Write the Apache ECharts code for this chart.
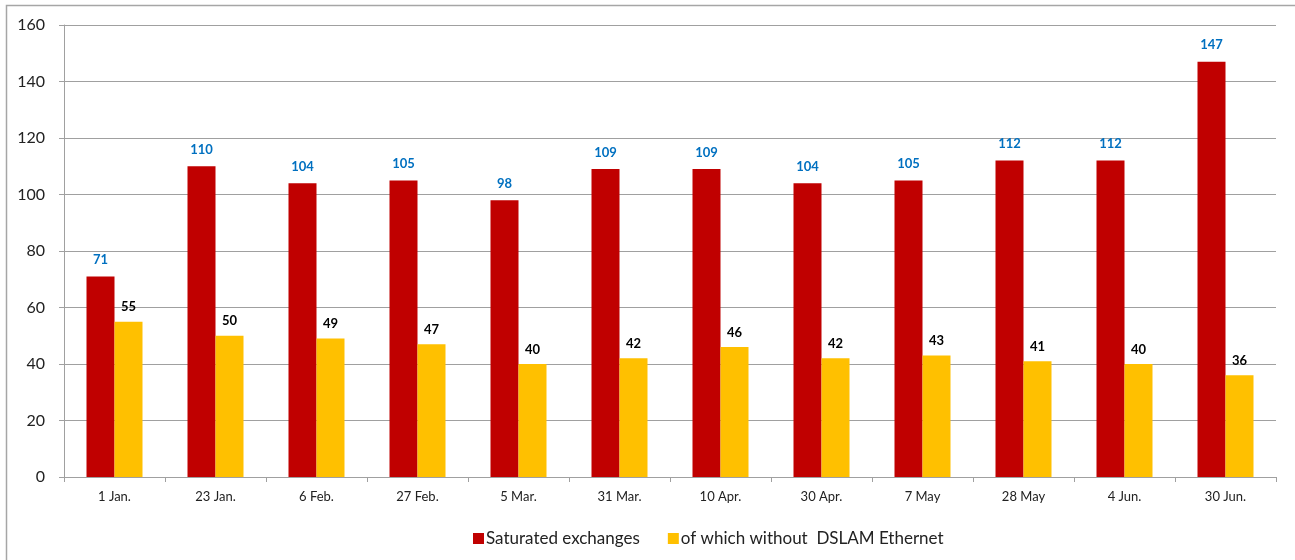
<!DOCTYPE html>
<html>
<head>
<meta charset="utf-8">
<script src="https://cdn.jsdelivr.net/npm/echarts@6/dist/echarts.min.js"></script>
<style>
  html, body { margin: 0; padding: 0; background: #fff; }
  #chart { width: 1295px; height: 560px; }
</style>
</head>
<body>
<div id="chart"></div>
<script>
const categories = ['1 Jan.', '23 Jan.', '6 Feb.', '27 Feb.', '5 Mar.', '31 Mar.', '10 Apr.', '30 Apr.', '7 May', '28 May', '4 Jun.', '30 Jun.']
const saturated = [71, 110, 104, 105, 98, 109, 109, 104, 105, 112, 112, 147]
const withoutDslam = [55, 50, 49, 47, 40, 42, 46, 42, 43, 41, 40, 36]
const yTicks = [0, 20, 40, 60, 80, 100, 120, 140, 160]

const font = 'Lato, "Open Sans", sans-serif'
const chart = echarts.init(document.getElementById('chart'))

chart.setOption({
  animation: false,
  textStyle: {fontFamily: font},
  graphic: [{
    type: 'rect',
    shape: {x: 6.5, y: 5.5, width: 1300, height: 600},
    style: {fill: 'none', stroke: '#a6a6a6', lineWidth: 1.5},
    silent: true
  }],
  grid: {left: 64, right: 19, top: 25, bottom: 83},
  legend: {
    left: 468,
    top: 525,
    itemWidth: 11,
    itemHeight: 11,
    itemGap: 28,
    icon: 'rect',
    textStyle: {fontSize: 17, color: '#222', fontFamily: font, padding: [0, 0, 0, -3]},
    data: ['Saturated exchanges', 'of which without  DSLAM Ethernet']
  },
  xAxis: {
    type: 'category',
    data: categories,
    axisLine: {lineStyle: {color: '#a0a0a0', width: 1}},
    axisTick: {show: true, length: 5, lineStyle: {color: '#a0a0a0'}},
    axisLabel: {fontSize: 13, color: '#222', margin: 13, fontFamily: font}
  },
  yAxis: {
    type: 'value',
    min: 0,
    max: yTicks[yTicks.length - 1],
    interval: 20,
    axisLine: {show: true, lineStyle: {color: '#a0a0a0'}},
    axisTick: {show: true, length: 5, lineStyle: {color: '#a0a0a0'}},
    splitLine: {lineStyle: {color: '#a0a0a0', width: 1}},
    axisLabel: {fontSize: 16, color: '#222', margin: 19, fontFamily: font}
  },
  series: [
    {
      name: 'Saturated exchanges',
      type: 'bar',
      data: saturated,
      barWidth: 28,
      barGap: '0%',
      itemStyle: {color: '#C00000'},
      label: {
        show: true,
        position: 'top',
        distance: 10,
        color: '#0070C0',
        fontWeight: 'bold',
        fontSize: 13,
        fontFamily: font
      }
    },
    {
      name: 'of which without  DSLAM Ethernet',
      type: 'bar',
      data: withoutDslam,
      barWidth: 28,
      itemStyle: {color: '#FFC000'},
      label: {
        show: true,
        position: 'top',
        distance: 8,
        color: '#000',
        fontWeight: 'bold',
        fontSize: 13,
        fontFamily: font
      }
    }
  ]
})
</script>
</body>
</html>
